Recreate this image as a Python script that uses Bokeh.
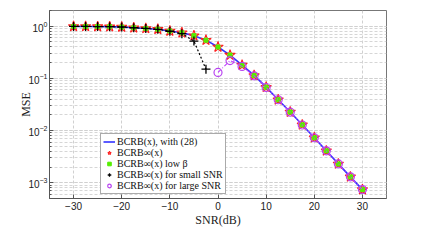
from bokeh.plotting import figure
from bokeh.models import (Range1d, FixedTicker, Legend, LegendItem, CustomJSTickFormatter)
from bokeh.embed import file_html
from bokeh.resources import INLINE

# ---- data ----
snr = [-30, -27.5, -25, -22.5, -20, -17.5, -15, -12.5, -10, -7.5, -5, -2.5,
       0, 2.5, 5, 7.5, 10, 12.5, 15, 17.5, 20, 22.5, 25, 27.5, 30]
bcrb = [0.99, 0.99, 0.985, 0.98, 0.965, 0.935, 0.905, 0.875, 0.81, 0.75, 0.66, 0.54,
        0.40, 0.28, 0.18, 0.114, 0.068, 0.039, 0.0227, 0.0129, 0.0073, 0.0041,
        0.0023, 0.0013, 0.00074]
bcrb_inf = bcrb
bcrb_low_beta = bcrb
snr_small = [-30, -27.5, -25, -22.5, -20, -17.5, -15, -12.5, -10, -7.5, -5, -2.5]
mse_small = [0.99, 0.99, 0.985, 0.98, 0.965, 0.935, 0.905, 0.87, 0.80, 0.72, 0.52, 0.15]
snr_large = [0, 2.5, 5, 7.5, 10, 12.5, 15, 17.5, 20, 22.5, 25, 27.5, 30]
mse_large = [0.13, 0.22, 0.17, 0.112, 0.067, 0.039, 0.0225, 0.0128, 0.0073, 0.0041,
             0.0023, 0.0013, 0.00074]
x_ticks = [-30, -20, -10, 0, 10, 20, 30]
labels = ["BCRB(x), with (28)", "BCRB\u221e(x)", "BCRB\u221e(x) low \u03b2",
          "BCRB\u221e(x) for small SNR", "BCRB\u221e(x) for large SNR"]

p = figure(width=420, height=229, output_backend="svg", toolbar_location=None,
           y_axis_type="log", x_range=Range1d(-35, 35), y_range=Range1d(5e-4, 2),
           min_border_left=49, min_border_right=34, min_border_top=10, min_border_bottom=19)
p.background_fill_color = "white"
p.border_fill_color = "white"
p.outline_line_color = "#777777"
p.outline_line_width = 1

# axes style
xfmt = CustomJSTickFormatter(code="return tick < 0 ? '\\u2212' + Math.abs(tick) : String(tick);")
for ax in p.xaxis:
    ax.ticker = FixedTicker(ticks=x_ticks)
    ax.formatter = xfmt
for ax in list(p.xaxis) + list(p.yaxis):
    ax.axis_line_color = "#555555"
    ax.major_tick_in = 4
    ax.major_tick_out = 0
    ax.minor_tick_in = 2
    ax.minor_tick_out = 0
    ax.major_tick_line_color = "#555555"
    ax.minor_tick_line_color = "#555555"
    ax.major_label_text_font = "Liberation Sans"
    ax.major_label_text_font_size = "10px"
    ax.major_label_text_color = "#222222"
    ax.major_label_standoff = 2
    ax.axis_label_text_font = "Liberation Serif"
    ax.axis_label_text_font_size = "12px"
    ax.axis_label_text_font_style = "normal"
    ax.axis_label_text_color = "#222222"
    ax.axis_label_standoff = 1
p.xaxis.minor_tick_line_color = None
p.xaxis.axis_label = "SNR(dB)"
p.xaxis.major_label_standoff = 3
p.xaxis.axis_label_standoff = 0
p.yaxis.axis_label = "MSE"
p.yaxis.axis_label_standoff = -8

# grids
p.xgrid.grid_line_color = "#d0d0d0"
p.xgrid.grid_line_dash = "3 2"
p.ygrid.grid_line_color = "#d0d0d0"
p.ygrid.grid_line_dash = "3 2"
p.ygrid.minor_grid_line_color = "#d6d6d6"
p.ygrid.minor_grid_line_dash = "3 2"

# glyphs
r_line = p.line(snr, bcrb, line_color="#3333ff", line_width=1.6)
r_star = p.scatter(snr, bcrb_inf, marker="star", size=11, fill_color=None,
                   line_color="#ff2020", line_width=1.1)
r_sq = p.scatter(snr, bcrb_low_beta, marker="square", size=4, fill_color="#55ee00",
                 line_color="#55ee00")
p.line(snr_small, mse_small, line_color="black", line_width=1.2, line_dash="2 2")
r_cross = p.scatter(snr_small, mse_small, marker="cross", size=9, line_color="black",
                    line_width=1.3)
p.line(snr_large, mse_large, line_color="#c040ff", line_width=1.1, line_dash="4 2 1 2")
r_circ = p.scatter(snr_large, mse_large, marker="circle", size=8, fill_color=None,
                   line_color="#b844f0", line_width=1.2)

legend = Legend(items=[LegendItem(label=labels[0], renderers=[r_line]),
                       LegendItem(label=labels[1], renderers=[r_star]),
                       LegendItem(label=labels[2], renderers=[r_sq]),
                       LegendItem(label=labels[3], renderers=[r_cross]),
                       LegendItem(label=labels[4], renderers=[r_circ])],
                location=(51, 4))
legend.label_text_font = "Liberation Serif"
legend.label_text_font_size = "10px"
legend.label_text_color = "#111111"
legend.label_height = 9
legend.glyph_height = 9
legend.glyph_width = 12
legend.label_standoff = 2
legend.padding = 2
legend.spacing = 0
legend.margin = 0
legend.border_line_color = "#555555"
legend.background_fill_alpha = 1
p.add_layout(legend, "center")

open("out.html", "w").write(file_html(p, INLINE))
